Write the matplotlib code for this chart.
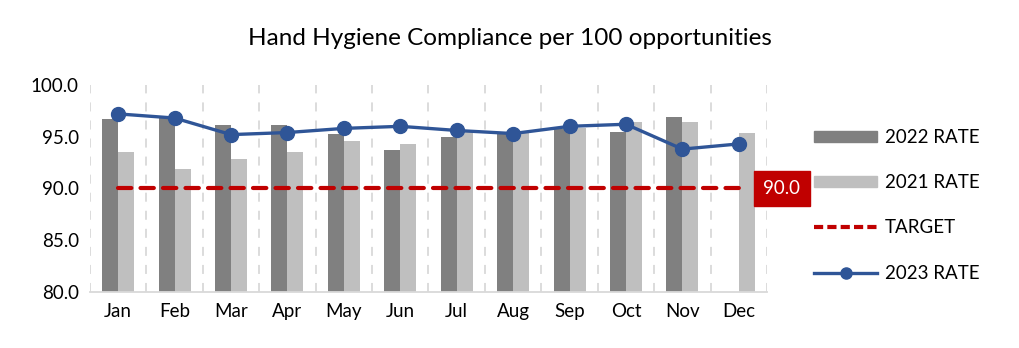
import numpy as np
import matplotlib
matplotlib.use("Agg")
import matplotlib.pyplot as plt
from matplotlib.lines import Line2D
from matplotlib.patches import Patch

plt.rcParams["font.family"] = ["Lato", "DejaVu Sans"]

months = ["Jan", "Feb", "Mar", "Apr", "May", "Jun",
          "Jul", "Aug", "Sep", "Oct", "Nov", "Dec"]
rate_2022 = [96.7, 96.8, 96.1, 96.1, 95.3, 93.7, 95.0, 95.4, 95.7, 95.5, 96.9, np.nan]
rate_2021 = [93.5, 91.9, 92.8, 93.5, 94.6, 94.3, 95.6, 95.4, 95.8, 96.4, 96.4, 95.4]
rate_2023 = [97.2, 96.8, 95.2, 95.4, 95.8, 96.0, 95.6, 95.3, 96.0, 96.2, 93.8, 94.3]
target = [90.0] * 12

DARK = "#808080"
LIGHT = "#bfbfbf"
RED = "#c00000"
BLUE = "#2f5597"

fig = plt.figure(figsize=(10.19, 3.48), dpi=100)
ax = fig.add_axes([0.0883, 0.161, 0.6644, 0.595])

x = np.arange(len(months))
w = 0.284
ax.bar(x - w / 2, rate_2022, width=w, color=DARK, zorder=2)
ax.bar(x + w / 2, rate_2021, width=w, color=LIGHT, zorder=2)
ax.plot(x, target, color=RED, lw=3, ls=(0, (3.2, 2.2)), dash_capstyle="round",
        solid_capstyle="round", zorder=3)
ax.plot(x, rate_2023, color=BLUE, lw=2.4, marker="o", ms=10, zorder=4)

# etiqueta del target en Dic
ax.annotate(f"{target[-1]:.1f}", xy=(x[-1], target[-1]), xytext=(31, 0),
            textcoords="offset points", ha="center", va="center",
            color="white", fontsize=13.5,
            bbox=dict(boxstyle="square,pad=0.5", fc=RED, ec=RED), zorder=5)

ax.set_xlim(-0.5, len(months) - 0.5)
ax.set_ylim(80, 100)
ax.set_yticks([80, 85, 90, 95, 100])
ax.set_yticklabels([f"{v:.1f}" for v in [80, 85, 90, 95, 100]], fontsize=13.5)
ax.set_xticks(x)
ax.set_xticklabels(months, fontsize=13.5)
ax.tick_params(length=0, pad=8)

for b in np.arange(-0.5, len(months) + 0.5, 1):
    ax.axvline(b, color="#d9d9d9", lw=1.3, ls=(0, (5, 5)), zorder=1)

for s in ["top", "right", "left"]:
    ax.spines[s].set_visible(False)
ax.spines["bottom"].set_color("#d9d9d9")
ax.spines["bottom"].set_linewidth(1.3)

fig.text(0.5, 0.89, "Hand Hygiene Compliance per 100 opportunities",
         ha="center", va="center", fontsize=17.5)

handles = [
    Patch(color=DARK, label="2022 RATE"),
    Patch(color=LIGHT, label="2021 RATE"),
    Line2D([], [], color=RED, lw=3, ls=(0, (2.2, 1.0)), label="TARGET"),
    Line2D([], [], color=BLUE, lw=2.4, marker="o", ms=8, label="2023 RATE"),
]
fig.legend(handles=handles, loc="center left", bbox_to_anchor=(0.782, 0.41),
           frameon=False, fontsize=13.5, handlelength=3.4, handleheight=0.5,
           labelspacing=1.5, handletextpad=0.4)

fig.savefig("out.png", dpi=100)
